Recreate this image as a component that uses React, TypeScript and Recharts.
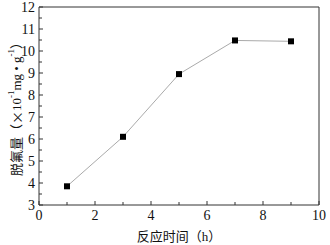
import * as React from "react";
import { LineChart, Line, XAxis, YAxis, ReferenceLine } from "recharts";

const hours = [1, 3, 5, 7, 9];
const removal = [3.85, 6.1, 8.95, 10.48, 10.44];

const xTicks = [0, 1, 2, 3, 4, 5, 6, 7, 8, 9, 10];
const xLabels = [0, 2, 4, 6, 8, 10];
const yTicks = [3, 3.5, 4, 4.5, 5, 5.5, 6, 6.5, 7, 7.5, 8, 8.5, 9, 9.5, 10, 10.5, 11, 11.5, 12];
const yLabels = [3, 4, 5, 6, 7, 8, 9, 10, 11, 12];

const data = hours.map((h, i) => ({ h, v: removal[i] }));

const AXIS = "#333";
const FONT = "'Liberation Serif', 'Noto Sans CJK SC', serif";
const CJK = "'Noto Sans CJK SC', sans-serif";

const XTick = (props: any) => {
  const { x, y, payload } = props;
  const major = xLabels.includes(payload.value);
  return (
    <g>
      <line x1={x} x2={x} y1={y} y2={y - (major ? 4 : 3)} stroke={AXIS} strokeWidth={1} />
      {major && (
        <text x={x} y={y + 10} textAnchor="middle" dominantBaseline="central" fontSize={14} fontFamily={FONT} fill="#111">
          {payload.value}
        </text>
      )}
    </g>
  );
};

const YTick = (props: any) => {
  const { x, y, payload } = props;
  const major = yLabels.includes(payload.value);
  return (
    <g>
      <line x1={x} x2={x + (major ? 4 : 3)} y1={y} y2={y} stroke={AXIS} strokeWidth={1} />
      {major && (
        <text x={x - 4} y={y} textAnchor="end" dominantBaseline="central" fontSize={14} fontFamily={FONT} fill="#111">
          {payload.value}
        </text>
      )}
    </g>
  );
};

const YTitle = (props: any) => {
  const vb = props.viewBox;
  const cx = vb.x + 16;
  const cy = vb.y + vb.height / 2;
  return (
    <text
      x={cx}
      y={cy}
      transform={`rotate(-90, ${cx}, ${cy})`}
      textAnchor="middle"
      dominantBaseline="central"
      fontSize={13}
      fontFamily={FONT}
      fill="#111"
    >
      <tspan>脱氟量（</tspan>
      <tspan fontFamily={CJK}>×</tspan>
      <tspan>10</tspan>
      <tspan dy={-5} fontSize={9}>-1</tspan>
      <tspan dy={5}>mg • g</tspan>
      <tspan dy={-5} fontSize={9}>-1</tspan>
      <tspan dy={5}>）</tspan>
    </text>
  );
};

const XTitle = (props: any) => {
  const vb = props.viewBox;
  return (
    <text
      x={vb.x + vb.width / 2}
      y={236}
      textAnchor="middle"
      dominantBaseline="central"
      fontSize={13}
      fontFamily={FONT}
      fill="#111"
    >
      反应时间（h）
    </text>
  );
};

const Square = (props: any) => {
  const { cx, cy } = props;
  return <rect x={cx - 3} y={cy - 3} width={6} height={6} fill="#000" />;
};

export default function App() {
  return (
    <div style={{ position: "absolute", left: 0, top: 0, background: "#fff" }}>
      <LineChart width={330} height={245} data={data} margin={{ top: 7, right: 11, bottom: 0, left: 0 }}>
        <XAxis
          dataKey="h"
          type="number"
          domain={[0, 10]}
          ticks={xTicks}
          interval={0}
          height={40}
          tickSize={0}
          tickMargin={0}
          tickLine={false}
          axisLine={{ stroke: AXIS }}
          tick={<XTick />}
          label={{ content: <XTitle /> }}
        />
        <YAxis
          type="number"
          domain={[3, 12]}
          ticks={yTicks}
          interval={0}
          width={39}
          tickSize={0}
          tickMargin={0}
          tickLine={false}
          axisLine={{ stroke: AXIS }}
          tick={<YTick />}
          label={{ content: <YTitle /> }}
        />
        <ReferenceLine y={12} stroke={AXIS} />
        <ReferenceLine x={10} stroke={AXIS} />
        <Line
          dataKey="v"
          stroke="#aaa"
          strokeWidth={1}
          dot={<Square />}
          activeDot={false}
          isAnimationActive={false}
        />
      </LineChart>
    </div>
  );
}
